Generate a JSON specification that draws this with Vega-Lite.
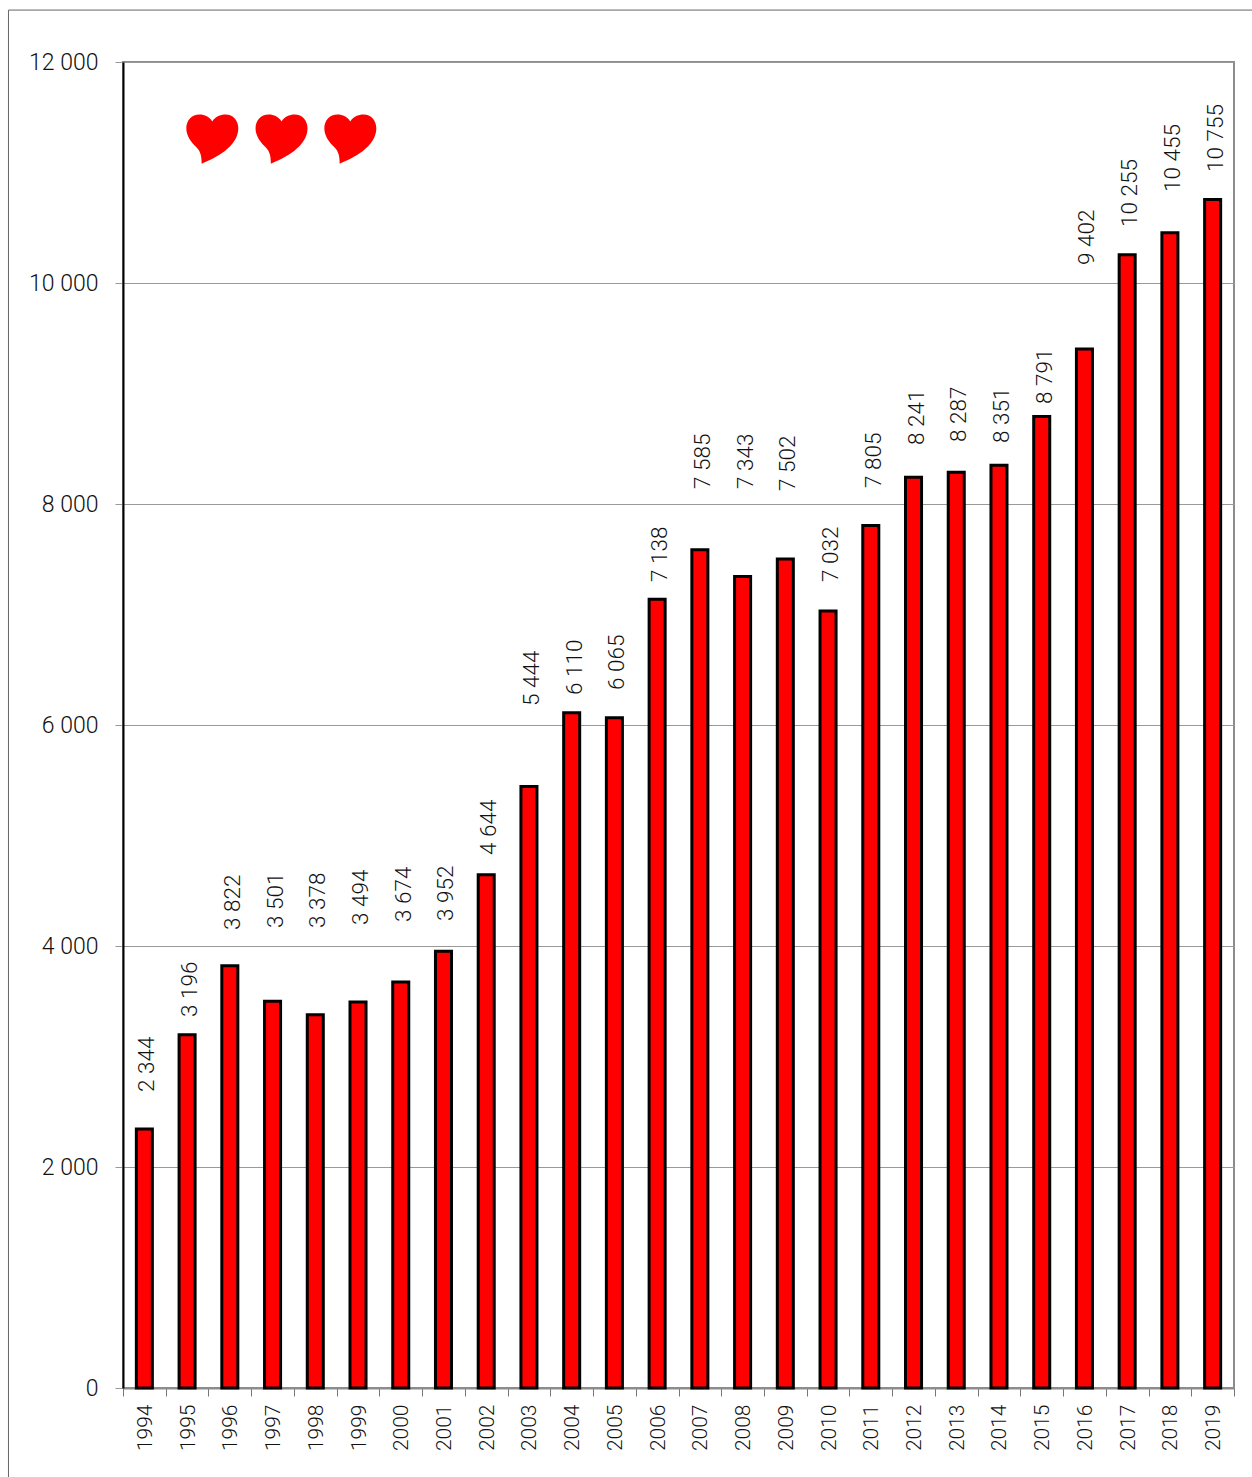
{"$schema":"https://vega.github.io/schema/vega-lite/v6.json","width":1111,"height":1326,"autosize":{"type":"none"},"padding":{"left":123,"top":62,"right":18,"bottom":89},"background":"white","config":{"locale":{"number":{"decimal":".","thousands":" ","grouping":[3],"currency":["",""]}},"view":{"stroke":"#8c8c8c","strokeWidth":2},"font":"Roboto"},"resolve":{"scale":{"x":"independent"}},"layer":[{"data":{"values":[{"year":1994,"value":2344,"labelPos":2697},{"year":1995,"value":3196,"labelPos":3376},{"year":1996,"value":3822,"labelPos":4163},{"year":1997,"value":3501,"labelPos":4181},{"year":1998,"value":3378,"labelPos":4181},{"year":1999,"value":3494,"labelPos":4208},{"year":2000,"value":3674,"labelPos":4235},{"year":2001,"value":3952,"labelPos":4244},{"year":2002,"value":4644,"labelPos":4842},{"year":2003,"value":5444,"labelPos":6190},{"year":2004,"value":6110,"labelPos":6290},{"year":2005,"value":6065,"labelPos":6335},{"year":2006,"value":7138,"labelPos":7312},{"year":2007,"value":7585,"labelPos":8154},{"year":2008,"value":7343,"labelPos":8154},{"year":2009,"value":7502,"labelPos":8136},{"year":2010,"value":7032,"labelPos":7312},{"year":2011,"value":7805,"labelPos":8163},{"year":2012,"value":8241,"labelPos":8552},{"year":2013,"value":8287,"labelPos":8579},{"year":2014,"value":8351,"labelPos":8570},{"year":2015,"value":8791,"labelPos":8923},{"year":2016,"value":9402,"labelPos":10181},{"year":2017,"value":10255,"labelPos":10525},{"year":2018,"value":10455,"labelPos":10842},{"year":2019,"value":10755,"labelPos":11023}]},"encoding":{"x":{"field":"year","type":"ordinal","scale":{"paddingInner":0.625,"paddingOuter":0.3125},"axis":{"title":null,"ticks":false,"domain":false,"labelAngle":270,"labelAlign":"right","labelBaseline":"middle","labelFont":"Roboto","labelFontWeight":300,"labelFontSize":21,"labelColor":"#111111","labelPadding":16,"labelOffset":1.5}}},"layer":[{"mark":{"type":"bar","fill":"#ff0000","stroke":"#000000","strokeWidth":3},"encoding":{"y":{"field":"value","type":"quantitative","scale":{"domain":[0,12000],"nice":false},"axis":{"title":null,"values":[0,2000,4000,6000,8000,10000,12000],"labelExpr":"format(datum.value, ',')","grid":true,"gridColor":"#999999","gridWidth":1,"domainColor":"#000000","domainWidth":2,"tickColor":"#999999","tickSize":8,"labelFont":"Roboto","labelFontWeight":300,"labelFontSize":23,"labelColor":"#111111","labelPadding":17}}}},{"mark":{"type":"text","angle":270,"align":"left","baseline":"middle","dx":-2,"dy":3,"font":"Roboto","fontWeight":300,"fontSize":22.5,"color":"#111111"},"encoding":{"y":{"field":"labelPos","type":"quantitative","axis":{"title":null,"values":[0,2000,4000,6000,8000,10000,12000],"labelExpr":"format(datum.value, ',')","grid":true,"gridColor":"#999999","gridWidth":1,"domainColor":"#000000","domainWidth":2,"tickColor":"#999999","tickSize":8,"labelFont":"Roboto","labelFontWeight":300,"labelFontSize":23,"labelColor":"#111111","labelPadding":17}},"text":{"field":"value","type":"quantitative","format":","}}}]},{"data":{"values":[{"t":1995.59,"v":11303},{"t":1997.21,"v":11303},{"t":1998.82,"v":11303}]},"mark":{"type":"point","filled":true,"fill":"#ff0000","opacity":1,"size":2704,"shape":"M0,-0.67 C-0.1,-0.85 -0.3,-0.94 -0.49,-0.94 C-0.8,-0.94 -1,-0.7 -1,-0.41 C-1,-0.1 -0.8,0.12 -0.66,0.27 C-0.5,0.42 -0.41,0.55 -0.41,0.95 C0.1,0.75 1,0.3 1,-0.41 C1,-0.7 0.8,-0.94 0.51,-0.94 C0.3,-0.94 0.1,-0.85 0,-0.67 Z"},"encoding":{"x":{"field":"t","type":"quantitative","scale":{"domain":[1993.5,2019.5],"nice":false,"zero":false},"axis":{"orient":"bottom","title":null,"values":[1993.5,1994.5,1995.5,1996.5,1997.5,1998.5,1999.5,2000.5,2001.5,2002.5,2003.5,2004.5,2005.5,2006.5,2007.5,2008.5,2009.5,2010.5,2011.5,2012.5,2013.5,2014.5,2015.5,2016.5,2017.5,2018.5,2019.5],"labels":false,"grid":false,"domainColor":"#8c8c8c","domainWidth":2,"tickColor":"#777777","tickSize":8}},"y":{"field":"v","type":"quantitative","axis":{"title":null,"values":[0,2000,4000,6000,8000,10000,12000],"labelExpr":"format(datum.value, ',')","grid":true,"gridColor":"#999999","gridWidth":1,"domainColor":"#000000","domainWidth":2,"tickColor":"#999999","tickSize":8,"labelFont":"Roboto","labelFontWeight":300,"labelFontSize":23,"labelColor":"#111111","labelPadding":17}}}},{"data":{"values":[{"t":1990.82,"t2":2020.5,"v":12470,"v2":12470},{"t":1990.82,"t2":1990.82,"v":-900,"v2":12470}]},"mark":{"type":"rule","color":"#666666","strokeWidth":1},"encoding":{"x":{"field":"t","type":"quantitative","scale":{"domain":[1993.5,2019.5],"nice":false,"zero":false},"axis":null},"x2":{"field":"t2"},"y":{"field":"v","type":"quantitative","axis":{"title":null,"values":[0,2000,4000,6000,8000,10000,12000],"labelExpr":"format(datum.value, ',')","grid":true,"gridColor":"#999999","gridWidth":1,"domainColor":"#000000","domainWidth":2,"tickColor":"#999999","tickSize":8,"labelFont":"Roboto","labelFontWeight":300,"labelFontSize":23,"labelColor":"#111111","labelPadding":17}},"y2":{"field":"v2"}}}]}
